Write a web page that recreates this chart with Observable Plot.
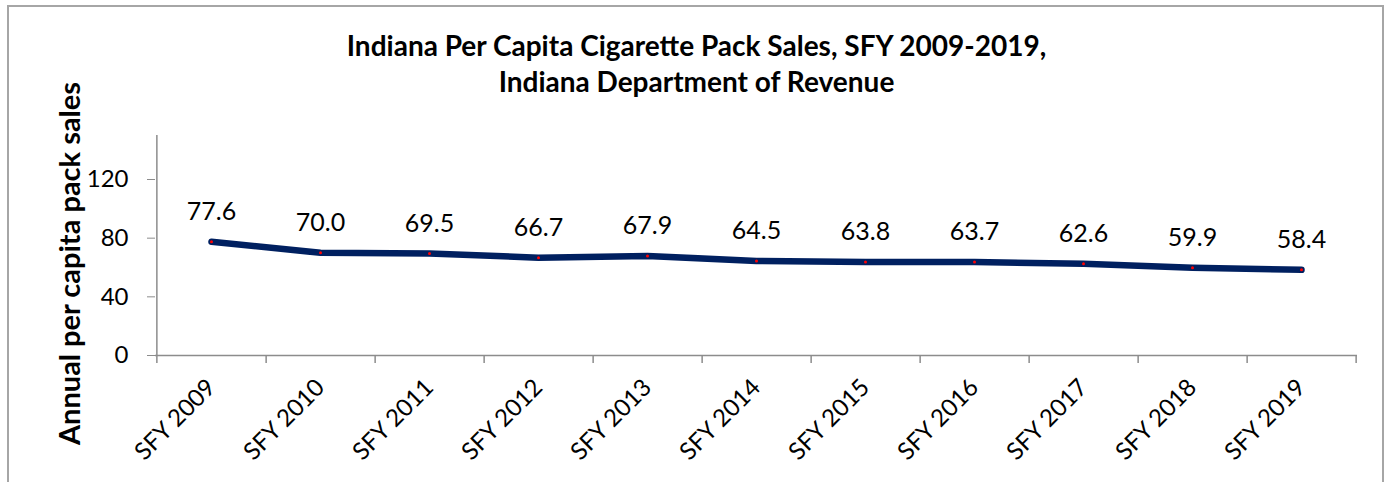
<!DOCTYPE html>
<html><head><meta charset="utf-8">
<script src="https://cdn.jsdelivr.net/npm/d3@7"></script>
<script src="https://cdn.jsdelivr.net/npm/@observablehq/plot@0.6"></script>
<style>
body{margin:0;background:#fff;font-family:Lato,sans-serif}
#wrap{position:relative;width:1387px;height:482px;overflow:hidden;background:#fff}
#chart{position:absolute;left:0;top:0}
#border{position:absolute;left:7px;top:5px;width:1377px;height:520px;border:2px solid #a6a6a6;box-sizing:border-box;pointer-events:none}
#title{position:absolute;left:3px;width:1387px;top:27px;text-align:center;font-weight:bold;font-size:28px;line-height:36px;color:#000}
</style></head><body>
<div id="wrap"><div id="chart"></div><div id="border"></div><div id="title">Indiana Per Capita Cigarette Pack Sales, SFY 2009-2019,<br>Indiana Department of Revenue</div></div>
<script>
const categories = ["SFY 2009","SFY 2010","SFY 2011","SFY 2012","SFY 2013","SFY 2014","SFY 2015","SFY 2016","SFY 2017","SFY 2018","SFY 2019"];
const values = [77.6,70.0,69.5,66.7,67.9,64.5,63.8,63.7,62.6,59.9,58.4];
const yTicks = [0,40,80,120];
const yMax = 150;
const yLabel = "Annual per capita pack sales";

const data = categories.map((c,i)=>({cat:c, val:values[i]}));
const W=1387,H=482,mL=155,mR=30,mT=135,mB=127;
const step=(W-mL-mR)/categories.length;
const axisColor="#8c8c8c";

const chart = Plot.plot({
  width:W,height:H,marginLeft:mL,marginRight:mR,marginTop:mT,marginBottom:mB,
  style:{fontFamily:"Lato, sans-serif",background:"transparent",color:"#000"},
  x:{type:"point",domain:categories,padding:0.5,align:0.5},
  y:{domain:[0,yMax]},
  marks:[
    Plot.ruleY([0],{stroke:axisColor,strokeWidth:1.5}),
    Plot.ruleX([categories[0]],{x:d=>d,dx:-step/2,y1:yMax,y2:0,insetBottom:-8,stroke:axisColor,strokeWidth:1.5}),
    Plot.ruleX(categories,{x:d=>d,dx:step/2,y1:0,y2:0,insetBottom:-8,stroke:axisColor,strokeWidth:1.5}),
    Plot.line(data,{x:"cat",y:"val",stroke:"#002060",strokeWidth:6.5,strokeLinecap:"round",strokeLinejoin:"round"}),
    Plot.dot(data,{x:"cat",y:"val",r:1.5,fill:"red"}),
    Plot.text(data,{x:"cat",y:"val",text:d=>d.val.toFixed(1),dy:-30,fontSize:25,fill:"#000"}),
    Plot.axisY({ticks:yTicks,tickSize:8,tickPadding:19,fontSize:24,stroke:axisColor,fill:"#000",label:null}),
    Plot.axisX({tickSize:0,tickRotate:-45,tickPadding:28,fontSize:24,fill:"#000",label:null}),
    Plot.text([yLabel],{frameAnchor:"left",textAnchor:"middle",rotate:-90,dx:-85,dy:18,fontSize:29,fontWeight:"bold",fill:"#000"})
  ]
});
document.getElementById("chart").appendChild(chart);
</script>
</body></html>
